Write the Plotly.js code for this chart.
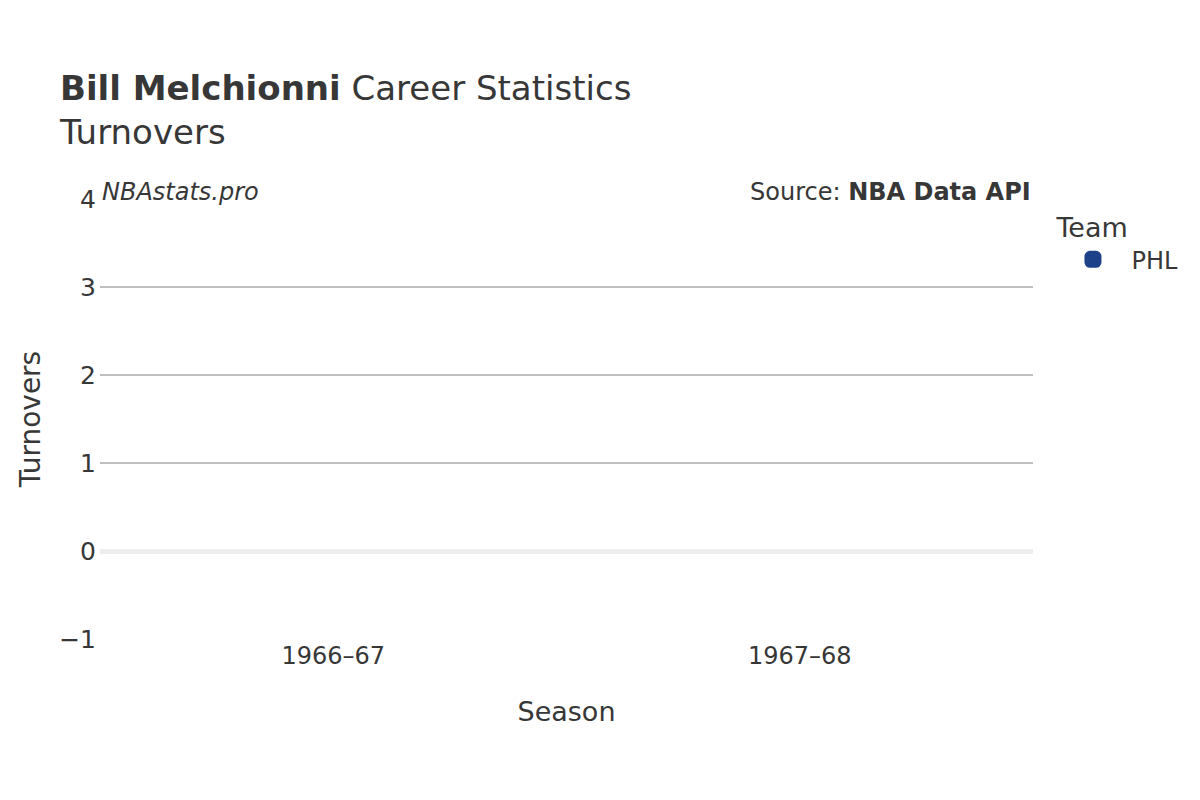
<!DOCTYPE html>
<html>
<head>
<meta charset="utf-8">
<script src="https://cdn.plot.ly/plotly-3.0.1.min.js"></script>
<style>
    html, body { margin: 0; padding: 0; background: #fff; }
    #chart { width: 1200px; height: 800px; }
</style>
</head>
<body>
<div id="chart"></div>
<script>
// Seasons and turnovers (turnovers were not recorded back then, so no values)
const seasons = ["1966–67", "1967–68"];
const teams = ["PHL", "PHL"];
const turnovers = [null, null];
const yTicks = [-1, 0, 1, 2, 3, 4];

const font = "DejaVu Sans";
const textColor = "#373737";

Plotly.newPlot("chart", [{
    type: "bar",
    name: teams[0],
    x: seasons,
    y: turnovers,
    marker: {
        color: "#1d428a",
        cornerradius: 4,
        line: { color: "#1d428a", width: 10 },
    },
}], {
    width: 1200,
    height: 800,
    font: { family: font, color: textColor, size: 24 },
    title: {
        text: "<b>Bill Melchionni</b> Career Statistics<br>Turnovers",
        font: { family: font, size: 34, color: textColor },
        x: 0.05, xanchor: "left",
        y: 0.875, yanchor: "top",
    },
    xaxis: {
        title: { text: "Season", font: { size: 27 }, standoff: 33 },
        tickfont: { size: 24 },
        showgrid: false,
    },
    yaxis: {
        title: { text: "Turnovers", font: { size: 28 }, standoff: 10 },
        range: [-1, 4],
        tickvals: yTicks,
        tickfont: { size: 25 },
        ticklabelstandoff: 3,
        gridcolor: "#bfbfbf",
        gridwidth: 2,
        zeroline: true,
        zerolinecolor: "#eeeeee",
        zerolinewidth: 5,
    },
    legend: {
        title: { text: "Team", font: { size: 27 } },
        font: { size: 24 },
        itemwidth: 67,
        x: 1.023, xanchor: "left",
        y: 0.993, yanchor: "top",
    },
    showlegend: true,
    margin: { l: 100, r: 167, t: 199, b: 161 },
    plot_bgcolor: "#fff",
    paper_bgcolor: "#fff",
    annotations: [{
        text: "<i>NBAstats.pro</i>",
        xref: "paper", yref: "paper",
        x: 0, y: 1.015, xanchor: "left", yanchor: "middle",
        showarrow: false,
        font: { size: 24 },
    }, {
        text: "Source: <b>NBA Data API</b>",
        xref: "paper", yref: "paper",
        x: 1, y: 1.015, xanchor: "right", yanchor: "middle",
        showarrow: false,
        font: { size: 24 },
    }],
}, { displayModeBar: false });
</script>
</body>
</html>
